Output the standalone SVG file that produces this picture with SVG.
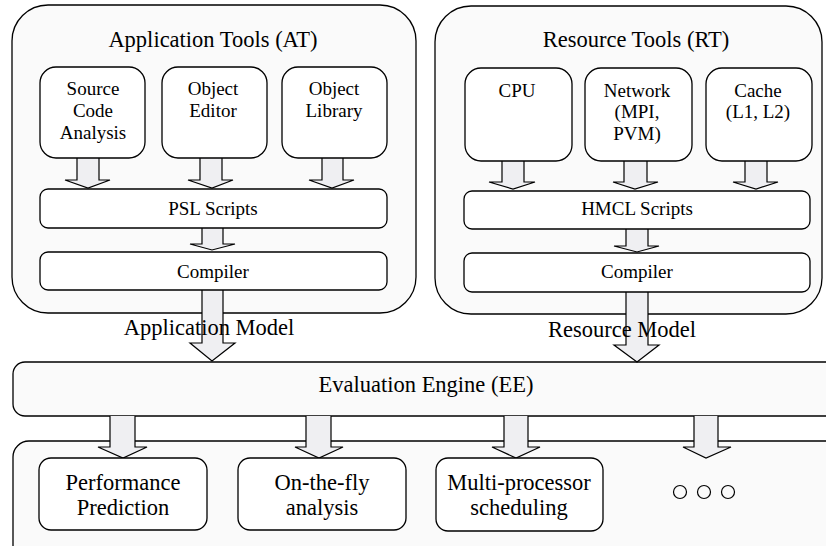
<svg xmlns="http://www.w3.org/2000/svg" width="826" height="546" viewBox="0 0 826 546">
<style>
.outer{fill:#fafafa;stroke:#000;stroke-width:1.3}
.box{fill:#ffffff;stroke:#000;stroke-width:1.3}
.arr{fill:#efeff2;stroke:#000;stroke-width:1.2;stroke-linejoin:miter}
text{font-family:'Liberation Serif','Times New Roman','DejaVu Serif',serif;fill:#000;text-anchor:middle}
.t{font-size:22.5px}
.s{font-size:19px}
.m{font-size:19px}
.b{font-size:22.5px}
</style>
<rect width="826" height="546" fill="#ffffff"/>
<g id="AT">
<rect class="outer" x="12" y="5" width="404" height="308" rx="36"/>
<text class="t" x="213" y="47">Application Tools (AT)</text>
</g>
<g id="RT">
<rect class="outer" x="435" y="6" width="387" height="308" rx="36"/>
<text class="t" x="636" y="47">Resource Tools (RT)</text>
</g>
<g id="EE">
<rect class="outer" x="13" y="362" width="830" height="54" rx="12"/>
<text class="b" x="426" y="392">Evaluation Engine (EE)</text>
</g>
<g id="Uses">
<rect class="outer" x="13" y="441" width="830" height="120" rx="16"/>
</g>
<g id="connectors">
<path class="arr" d="M77,158 V180 H65 L88,188 L110,180 H99 V158"/>
<path class="arr" d="M200,158 V180 H188 L212,188 L233,180 H222 V158"/>
<path class="arr" d="M322,158 V180 H309 L332,188 L354,180 H343 V158"/>
<path class="arr" d="M202,228 V244 H190 L212,250 L235,244 H223 V228"/>
<path class="arr" d="M202,290 V343 H190 L212,361 L235,343 H223 V290"/>
<path class="arr" d="M502,161 V182 H489 L513,189 L535,182 H524 V161"/>
<path class="arr" d="M624,161 V182 H613 L635,189 L658,182 H647 V161"/>
<path class="arr" d="M745,161 V182 H733 L756,189 L778,182 H767 V161"/>
<path class="arr" d="M626,229 V246 H614 L637,252 L659,246 H648 V229"/>
<path class="arr" d="M626,292 V345 H614 L637,362 L659,345 H648 V292"/>
<path class="arr" d="M110,416 V447 H98 L123,458 L147,447 H135 V416"/>
<path class="arr" d="M306,416 V447 H295 L319,458 L343,447 H331 V416"/>
<path class="arr" d="M504,416 V447 H492 L516,458 L540,447 H528 V416"/>
<path class="arr" d="M694,416 V447 H683 L706,458 L731,447 H718 V416"/>
</g>
<g id="model-labels">
<text class="b" x="209" y="335">Application Model</text>
<text class="b" x="622" y="337">Resource Model</text>
</g>
<g id="SourceCodeAnalysis">
<rect class="box" x="40" y="67" width="105" height="91" rx="16"/>
<text class="s" x="93" y="95">Source</text>
<text class="s" x="93" y="117">Code</text>
<text class="s" x="93" y="139">Analysis</text>
</g>
<g id="ObjectEditor">
<rect class="box" x="162" y="67" width="105" height="91" rx="16"/>
<text class="s" x="213" y="95">Object</text>
<text class="s" x="213" y="117">Editor</text>
</g>
<g id="ObjectLibrary">
<rect class="box" x="282" y="67" width="105" height="91" rx="16"/>
<text class="s" x="334" y="95">Object</text>
<text class="s" x="334" y="117">Library</text>
</g>
<g id="PSLScripts">
<rect class="box" x="40" y="189" width="347" height="39" rx="8"/>
<text class="m" x="213" y="215">PSL Scripts</text>
</g>
<g id="CompilerAT">
<rect class="box" x="40" y="252" width="347" height="38" rx="8"/>
<text class="m" x="213" y="278">Compiler</text>
</g>
<g id="CPU">
<rect class="box" x="465" y="68" width="107" height="93" rx="16"/>
<text class="s" x="517" y="97">CPU</text>
</g>
<g id="Network">
<rect class="box" x="585" y="68" width="107" height="93" rx="16"/>
<text class="s" x="637" y="97">Network</text>
<text class="s" x="637" y="118">(MPI,</text>
<text class="s" x="637" y="140">PVM)</text>
</g>
<g id="Cache">
<rect class="box" x="706" y="68" width="106" height="93" rx="16"/>
<text class="s" x="758" y="97">Cache</text>
<text class="s" x="758" y="118">(L1, L2)</text>
</g>
<g id="HMCLScripts">
<rect class="box" x="464" y="191" width="346" height="38" rx="8"/>
<text class="m" x="637" y="215">HMCL Scripts</text>
</g>
<g id="CompilerRT">
<rect class="box" x="464" y="253" width="346" height="39" rx="8"/>
<text class="m" x="637" y="278">Compiler</text>
</g>
<g id="PerformancePrediction">
<rect class="box" x="39" y="458" width="168" height="72" rx="12"/>
<text class="b" x="123" y="490">Performance</text>
<text class="b" x="123" y="515">Prediction</text>
</g>
<g id="OnTheFly">
<rect class="box" x="238" y="458" width="168" height="72" rx="12"/>
<text class="b" x="322" y="490">On-the-fly</text>
<text class="b" x="322" y="515">analysis</text>
</g>
<g id="MultiProcessor">
<rect class="box" x="436" y="458" width="167" height="73" rx="12"/>
<text class="b" x="519" y="490">Multi-processor</text>
<text class="b" x="519" y="515">scheduling</text>
</g>
<g id="More">
<circle cx="680" cy="492" r="6.5" fill="none" stroke="#000" stroke-width="1.2"/>
<circle cx="704" cy="492" r="6.5" fill="none" stroke="#000" stroke-width="1.2"/>
<circle cx="728" cy="492" r="6.5" fill="none" stroke="#000" stroke-width="1.2"/>
</g>
</svg>
